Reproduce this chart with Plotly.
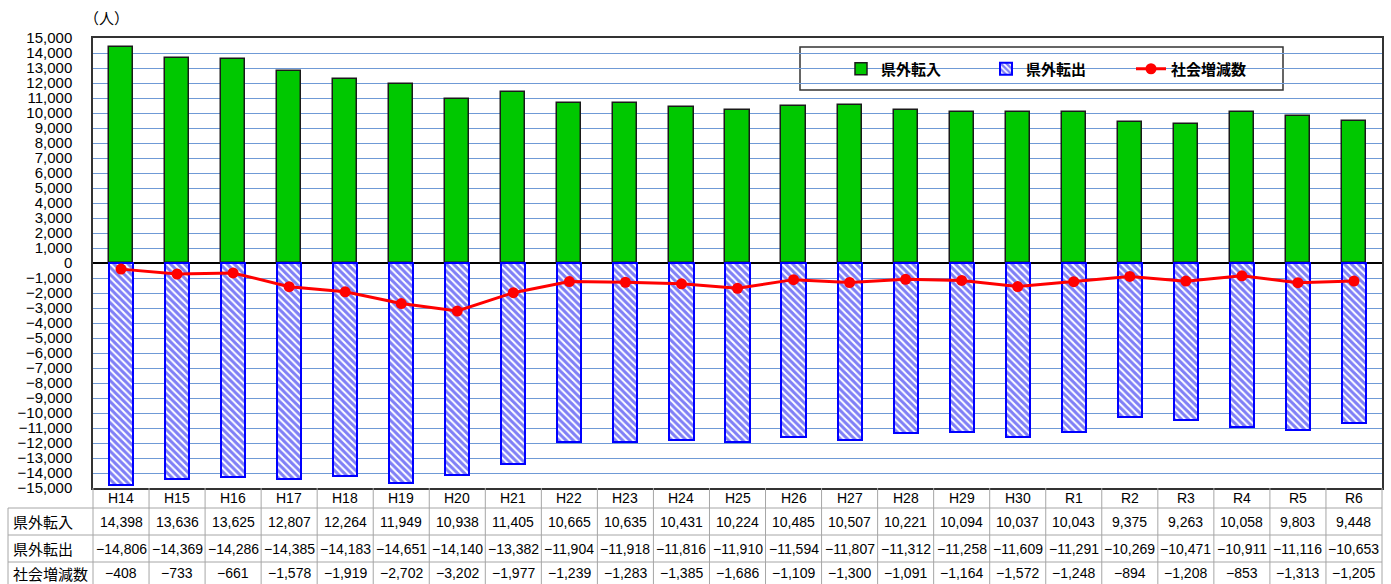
import plotly.graph_objects as go

categories = ["H14", "H15", "H16", "H17", "H18", "H19", "H20", "H21", "H22", "H23", "H24", "H25",
              "H26", "H27", "H28", "H29", "H30", "R1", "R2", "R3", "R4", "R5", "R6"]
tennyu = [14398, 13636, 13625, 12807, 12264, 11949, 10938, 11405, 10665, 10635, 10431, 10224,
          10485, 10507, 10221, 10094, 10037, 10043, 9375, 9263, 10058, 9803, 9448]
tenshutsu = [-14806, -14369, -14286, -14385, -14183, -14651, -14140, -13382, -11904, -11918, -11816, -11910,
             -11594, -11807, -11312, -11258, -11609, -11291, -10269, -10471, -10911, -11116, -10653]
zougen = [-408, -733, -661, -1578, -1919, -2702, -3202, -1977, -1239, -1283, -1385, -1686,
          -1109, -1300, -1091, -1164, -1572, -1248, -894, -1208, -853, -1313, -1205]
row_names = ["県外転入", "県外転出", "社会増減数"]
y_ticks = list(range(-15000, 15001, 1000))

JP = "Noto Sans CJK JP"
NUM = "Liberation Sans, Arial"

W, H = 1391, 584
ML, MR, MT, MB = 93, 9, 38, 96
PW, PH = W - ML - MR, H - MT - MB


def px_x(px):
    return (px - ML) / PW


def px_y(py):
    return (H - MB - py) / PH


def fmt(v):
    s = f"{abs(v):,}"
    return ("−" + s) if v < 0 else s


fig = go.Figure()
fig.add_trace(go.Bar(
    x=categories, y=tennyu, name="県外転入", width=0.43,
    marker=dict(color="#00c800", line=dict(color="#1a1a1a", width=1.5)),
))
fig.add_trace(go.Bar(
    x=categories, y=tenshutsu, name="県外転出", width=0.43,
    marker=dict(color="white", line=dict(color="#0000ff", width=2),
                pattern=dict(shape="\\", fgcolor="#0000ee", bgcolor="white", size=5, solidity=0.6)),
))
fig.add_trace(go.Scatter(
    x=categories, y=zougen, name="社会増減数", mode="lines+markers",
    line=dict(color="#ff0000", width=3), marker=dict(color="#ff0000", size=11),
))

shapes = []
# legend box
shapes.append(dict(type="rect", xref="paper", yref="paper",
                   x0=px_x(800), x1=px_x(1283), y0=px_y(90), y1=px_y(47),
                   line=dict(color="#333", width=1.5), fillcolor="white", layer="below"))

# table geometry
row_lines = [508, 535, 562]
bottom = 584
tcol = "#a6a6a6"
for py in row_lines:
    shapes.append(dict(type="line", xref="paper", yref="paper",
                       x0=px_x(8), x1=1, y0=px_y(py), y1=px_y(py), line=dict(color=tcol, width=1)))
shapes.append(dict(type="line", xref="paper", yref="paper", x0=px_x(8), x1=px_x(8),
                   y0=px_y(508), y1=px_y(bottom), line=dict(color=tcol, width=1)))
shapes.append(dict(type="line", xref="paper", yref="paper", x0=0, x1=0,
                   y0=0, y1=px_y(bottom), line=dict(color=tcol, width=1)))
shapes.append(dict(type="line", xref="paper", yref="paper", x0=1, x1=1,
                   y0=0, y1=px_y(bottom), line=dict(color=tcol, width=1)))
for i in range(1, len(categories)):
    shapes.append(dict(type="line", xref="x", yref="paper", x0=i - 0.5, x1=i - 0.5,
                       y0=0, y1=px_y(bottom), line=dict(color=tcol, width=1)))

annotations = []
annotations.append(dict(text="（人）", xref="paper", yref="paper", x=px_x(106), y=px_y(17),
                        xanchor="center", yanchor="middle",
                        showarrow=False, font=dict(family=JP, size=15, color="black")))
header_y = px_y(498)
row_ys = [px_y(521.5), px_y(548.5), px_y(573)]
for i, c in enumerate(categories):
    annotations.append(dict(text=c, xref="x", yref="paper", x=i, y=header_y, showarrow=False,
                            xanchor="center", yanchor="middle",
                            font=dict(family=NUM, size=14, color="black")))
for r, (name, vals) in enumerate(zip(row_names, [tennyu, tenshutsu, zougen])):
    annotations.append(dict(text=name, xref="paper", yref="paper", x=px_x(11), y=row_ys[r],
                            xanchor="left", yanchor="middle",
                            showarrow=False, font=dict(family=JP, size=15, color="black")))
    for i, v in enumerate(vals):
        annotations.append(dict(text=fmt(v), xref="x", yref="paper", x=i, y=row_ys[r],
                                xanchor="center", yanchor="middle",
                                showarrow=False, font=dict(family=NUM, size=14, color="black")))

fig.update_layout(
    width=W, height=H, margin=dict(l=ML, r=MR, t=MT, b=MB, autoexpand=False),
    paper_bgcolor="white", plot_bgcolor="white",
    barmode="overlay", bargap=0,
    font=dict(family=NUM, color="black"),
    showlegend=True,
    legend=dict(orientation="h", x=px_x(841), y=px_y(69), xanchor="left", yanchor="middle",
                bgcolor="rgba(0,0,0,0)", borderwidth=0,
                font=dict(family=JP, size=15, color="black", weight="bold"),
                entrywidth=100, entrywidthmode="pixels", traceorder="normal"),
    shapes=shapes, annotations=annotations,
)
fig.update_xaxes(showticklabels=False, showgrid=False, showline=True, linecolor="#333",
                 linewidth=1.5, mirror=True, range=[-0.5, len(categories) - 0.5], ticks="")
fig.update_yaxes(range=[-15000, 15000], tickvals=y_ticks, tickformat=",", showgrid=True,
                 gridcolor="#6f9ad6", gridwidth=1, zeroline=True, zerolinecolor="black",
                 zerolinewidth=1.5, showline=True, linecolor="#333", linewidth=1.5, mirror=True,
                 ticks="", ticklabelstandoff=16, automargin=False,
                 tickfont=dict(family=NUM, size=15, color="black"))

fig.write_html("out.html", config={"displayModeBar": False},
               post_script="document.body.style.margin='0px';")
